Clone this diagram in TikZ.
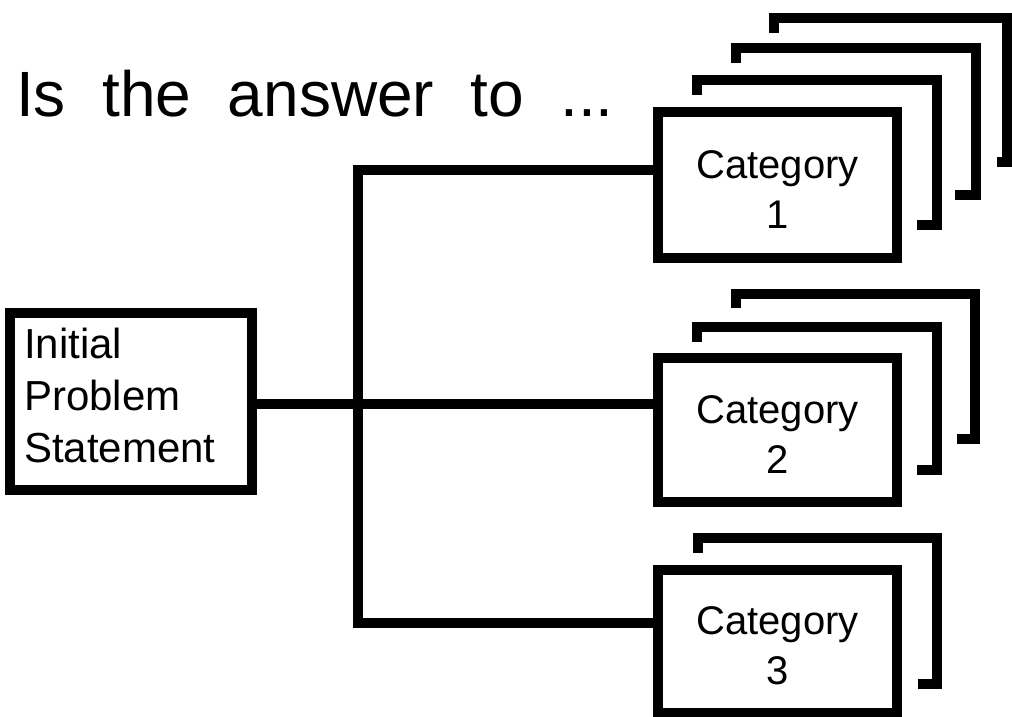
\documentclass[tikz,border=0pt]{standalone}
\usepackage{fontspec}
\setmainfont{Liberation Sans}
\newfontfamily\titlefont[WordSpace=2.05]{Liberation Sans}
\begin{document}
\begin{tikzpicture}[x=1pt,y=-1pt,
  heavy/.style={line width=10pt, line join=miter},
  box/.style={draw, heavy, fill=white, inner sep=0pt, outer sep=0pt, anchor=north west},
  catbox/.style={box, minimum width=239pt, align=center, font=\fontsize{40}{50}\selectfont},
  sheet/.style={heavy},
  wire/.style={heavy}]
\useasboundingbox (0,0) rectangle (1012,716);

% heading
\node[anchor=base west, inner sep=0pt, font=\titlefont\fontsize{64}{64}\selectfont]
  (title) at (16,116) {Is the answer to ...};

% sheets stacked behind category 1
\draw[sheet] (697,95) -- (697,80) -- (937,80) -- (937,225) -- (917,225);
\draw[sheet] (736,63) -- (736,48) -- (976,48) -- (976,195) -- (955,195);
\draw[sheet] (774,33) -- (774,18) -- (1007,18) -- (1007,162) -- (997,162);

% sheets stacked behind category 2
\draw[sheet] (697,342) -- (697,327) -- (937,327) -- (937,470) -- (917,470);
\draw[sheet] (736,308) -- (736,294) -- (975,294) -- (975,439) -- (957,439);

% sheet stacked behind category 3
\draw[sheet] (698,553) -- (698,538) -- (937,538) -- (937,684) -- (918,684);

% boxes
\node[box, minimum height=177pt, text width=214pt, inner xsep=14pt, align=left,
      font=\fontsize{42}{52}\selectfont]
  (init) at (10,313) {Initial\\Problem\\Statement\rule[-13pt]{0pt}{0pt}};
\node[catbox, minimum height=146pt] (c1) at (658,112) {\rule{0pt}{36pt}Category\\1};
\node[catbox, minimum height=144pt] (c2) at (658,358) {\rule{0pt}{36pt}Category\\2};
\node[catbox, minimum height=143pt] (c3) at (658,570) {\rule{0pt}{36pt}Category\\3};

% branching connectors
\coordinate (j1) at (358,170);
\coordinate (j2) at (358,404);
\coordinate (j3) at (358,623);
\draw[wire] (c1.west |- j1) -- (j1) -- (j3) -- (c3.west |- j3);
\draw[wire] (init.east |- j2) -- (c2.west |- j2);
\end{tikzpicture}
\end{document}
